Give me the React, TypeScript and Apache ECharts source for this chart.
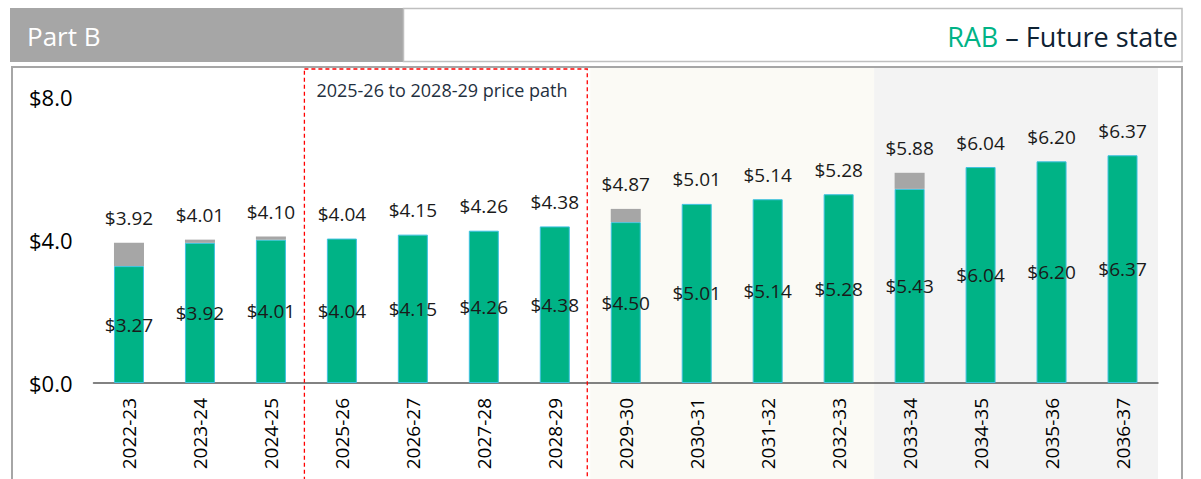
import React, { useEffect, useRef } from "react";
import * as echarts from "echarts";

const categories = [
  "2022-23", "2023-24", "2024-25", "2025-26", "2026-27", "2027-28", "2028-29",
  "2029-30", "2030-31", "2031-32", "2032-33", "2033-34", "2034-35", "2035-36", "2036-37",
];
const baseValues = [3.27, 3.92, 4.01, 4.04, 4.15, 4.26, 4.38, 4.5, 5.01, 5.14, 5.28, 5.43, 6.04, 6.2, 6.37];
const totalValues = [3.92, 4.01, 4.1, 4.04, 4.15, 4.26, 4.38, 4.87, 5.01, 5.14, 5.28, 5.88, 6.04, 6.2, 6.37];
const yTicks = [0, 4, 8];

const FONT = "'Open Sans', 'Noto Sans', sans-serif";
const GREEN = "#00b386";
const GREY = "#a6a6a6";

export default function App() {
  const ref = useRef<HTMLDivElement>(null);
  useEffect(() => {
    if (!ref.current) return;
    const chart = echarts.init(ref.current, null, { renderer: "svg" });
    const addValues = totalValues.map((t, i) => {
      const d = Math.round((t - baseValues[i]) * 100) / 100;
      return d > 0 ? d : null;
    });
    const option: any = {
      animation: false,
      textStyle: { fontFamily: FONT },
      grid: { left: 93.5, right: 43, top: 97, bottom: 96, containLabel: false },
      xAxis: {
        type: "category",
        data: categories,
        axisLine: { show: true, lineStyle: { color: "#595959", width: 1.5 } },
        axisTick: { show: false },
        axisLabel: { rotate: 90, margin: 15, fontSize: 19, color: "#000", fontFamily: FONT },
      },
      yAxis: {
        type: "value",
        min: yTicks[0],
        max: yTicks[yTicks.length - 1],
        interval: yTicks[1] - yTicks[0],
        axisLine: { show: false },
        axisTick: { show: false },
        splitLine: { show: false },
        axisLabel: {
          margin: 21,
          fontSize: 22,
          color: "#000",
          fontFamily: FONT,
          formatter: (v: number) => "$" + v.toFixed(1),
        },
      },
      series: [
        {
          type: "bar",
          stack: "rab",
          data: baseValues,
          barWidth: 30,
          itemStyle: { color: GREEN, borderColor: "#3ec1e0", borderWidth: 1 },
          label: {
            show: true,
            position: "inside",
            fontSize: 19,
            color: "#1a1a1a",
            textBorderWidth: 0,
            fontFamily: FONT,
            formatter: (p: any) => "$" + p.value.toFixed(2),
          },
          silent: true,
          z: 3,
        },
        {
          type: "bar",
          stack: "rab",
          data: addValues,
          barWidth: 30,
          itemStyle: { color: GREY },
          silent: true,
          z: 3,
        },
        {
          type: "bar",
          data: totalValues,
          barWidth: 30,
          barGap: "-100%",
          itemStyle: { color: "rgba(0,0,0,0)" },
          label: {
            show: true,
            position: "top",
            distance: 15,
            fontSize: 19,
            color: "#1a1a1a",
            fontFamily: FONT,
            formatter: (p: any) => "$" + p.value.toFixed(2),
          },
          silent: true,
          z: 4,
        },
      ],
    };
    chart.setOption(option);

    const px = (i: number) => chart.convertToPixel({ xAxisIndex: 0 }, i) as number;
    const bw = px(1) - px(0);
    const creamL = px(7) - bw / 2;
    const creamR = px(10) + bw / 2;
    const greyL = px(11) - bw / 2;
    const greyR = px(14) + bw / 2;
    const redL = px(3) - bw / 2 - 2;
    const redR = px(6) + bw / 2 - 3;

    chart.setOption({
      graphic: [
        { type: "rect", z: -10, shape: { x: creamL, y: 68, width: creamR - creamL, height: 420 }, style: { fill: "#fbfaf5" } },
        { type: "rect", z: -10, shape: { x: greyL, y: 68, width: greyR - greyL, height: 420 }, style: { fill: "#f3f3f3" } },
        {
          type: "rect",
          z: 10,
          shape: { x: redL, y: 69, width: redR - redL, height: 420 },
          style: { fill: "none", stroke: "#ff0000", lineWidth: 1.3, lineDash: [4, 3] },
        },
        {
          type: "text",
          z: 10,
          x: redL + 12,
          y: 90,
          style: {
            text: "2025-26 to 2028-29 price path",
            fill: "#1f3040",
            font: `18px ${FONT}`,
            textVerticalAlign: "middle",
          },
        },
        // panel border
        {
          type: "rect",
          z: 10,
          shape: { x: 12, y: 67, width: 1170, height: 430 },
          style: { fill: "none", stroke: "#a6a6a6", lineWidth: 2 },
        },
        // header
        { type: "rect", z: 10, shape: { x: 10, y: 8, width: 393, height: 54 }, style: { fill: GREY } },
        {
          type: "rect",
          z: 10,
          shape: { x: 403.5, y: 8.5, width: 778.5, height: 53 },
          style: { fill: "#fff", stroke: "#bfbfbf", lineWidth: 1.5 },
        },
        {
          type: "text",
          z: 11,
          x: 27,
          y: 36,
          style: { text: "Part B", fill: "#fff", font: `26px ${FONT}`, textVerticalAlign: "middle" },
        },
        {
          type: "text",
          z: 11,
          x: 1178,
          y: 36,
          style: {
            text: "{g|RAB}{d| – Future state}",
            textAlign: "right",
            textVerticalAlign: "middle",
            font: `27px ${FONT}`,
            rich: {
              g: { fill: GREEN, fontSize: 27, fontFamily: FONT },
              d: { fill: "#0e2233", fontSize: 27, fontFamily: FONT },
            },
          },
        },
      ],
    });

    return () => chart.dispose();
  }, []);
  return (
    <div
      ref={ref}
      style={{ position: "fixed", left: 0, top: 0, width: 1201, height: 479, background: "#fff" }}
    />
  );
}
